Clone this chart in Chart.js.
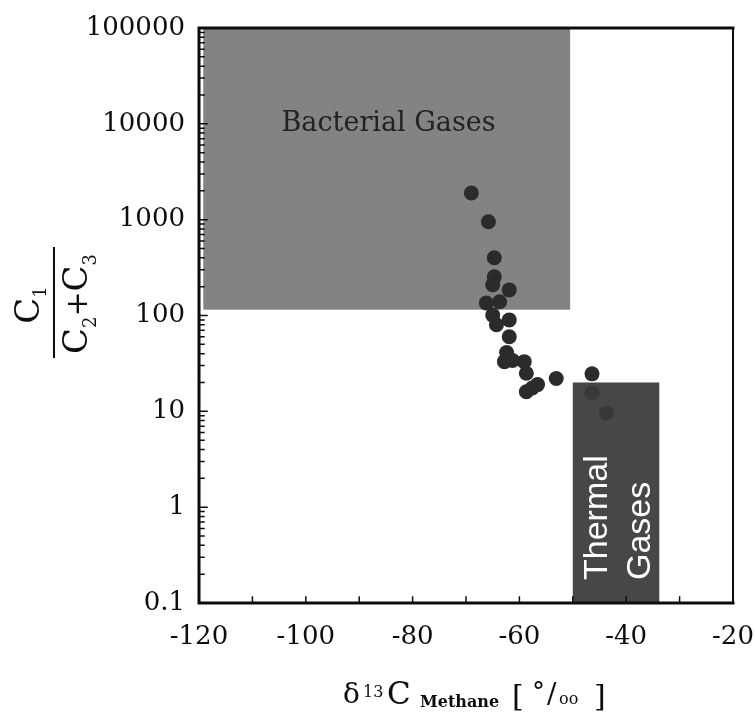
<!DOCTYPE html>
<html>
<head>
<meta charset="utf-8">
<script src="https://cdn.jsdelivr.net/npm/chart.js@4/dist/chart.umd.min.js"></script>
<style>
  html, body { margin: 0; padding: 0; background: #fff; }
  #wrap { width: 755px; height: 722px; }
</style>
</head>
<body>
<div id="wrap"><canvas id="chart" width="755" height="722"></canvas></div>
<script>
// delta 13C of methane (permil) and C1/(C2+C3) for each sample
const deltaC13 = [-69.0, -65.8, -64.7, -64.7, -65.0, -61.9, -66.2, -63.7, -65.0, -61.9,
                  -64.3, -61.9, -62.4, -61.3, -62.8, -59.1, -58.7, -58.7, -57.6, -56.6,
                  -53.1, -46.4, -46.4, -43.7];
const ratio    = [1900, 950, 400, 253, 209, 185, 135, 139, 101, 90,
                  80, 60, 41, 34, 33, 33, 25, 16, 17.5, 19,
                  22, 24.6, 15.6, 9.6];

const xTicks = [-120, -100, -80, -60, -40, -20];
const yTicks = [0.1, 1, 10, 100, 1000, 10000, 100000];
const yTickLabels = ["0.1", "1", "10", "100", "1000", "10000", "100000"];

// source fields
const bacterialX = [-119.2, -50.5];
const bacterialY = [115, 100000];
const thermalX = [-50, -33.8];
const thermalY = [0.1, 20];

const SERIF = '"DejaVu Serif", serif';
const SANS = '"Liberation Sans", Arial, sans-serif';
const COLORS = {
    bacterial: "#838383",
    thermal: "#474747",
    point: "#2b2b2b",
    pointHidden: "#383838",
    ink: "#0d0d0d",
};

const inThermal = (x, y) =>
    x >= thermalX[0] && x <= thermalX[1] && y >= thermalY[0] && y <= thermalY[1];

function fillRegion(ctx, s, xs, ys, color) {
    const x1 = s.x.getPixelForValue(xs[0]);
    const x2 = s.x.getPixelForValue(xs[1]);
    const y1 = s.y.getPixelForValue(ys[1]);
    const y2 = s.y.getPixelForValue(ys[0]);
    ctx.fillStyle = color;
    ctx.fillRect(x1, y1, x2 - x1, y2 - y1);
    return { x1, x2, y1, y2 };
}

// text runs with sub/superscripts
function runWidth(ctx, parts) {
    let w = 0;
    for (const p of parts) { ctx.font = p.font; w += ctx.measureText(p.t).width; }
    return w;
}
function drawRun(ctx, parts, x, y) {
    for (const p of parts) {
        ctx.font = p.font;
        ctx.fillText(p.t, x, y + (p.dy || 0));
        x += ctx.measureText(p.t).width;
    }
}

const decor = {
    id: "decor",
    beforeDatasetsDraw(chart) {
        const { ctx, scales } = chart;
        ctx.save();
        fillRegion(ctx, scales, bacterialX, bacterialY, COLORS.bacterial);
        const t = fillRegion(ctx, scales, thermalX, thermalY, COLORS.thermal);

        ctx.fillStyle = "#222222";
        ctx.font = `27px ${SERIF}`;
        ctx.textAlign = "center";
        ctx.textBaseline = "middle";
        ctx.fillText("Bacterial Gases", scales.x.getPixelForValue(-84.5), scales.y.getPixelForValue(10000));

        // vertical labels in the thermal box
        ctx.fillStyle = "#ffffff";
        ctx.font = `34px ${SANS}`;
        ctx.textAlign = "left";
        ctx.textBaseline = "alphabetic";
        const base = t.y2 - 23;
        [["Thermal", t.x1 + 34], ["Gases", t.x1 + 77]].forEach(([s, x]) => {
            ctx.save();
            ctx.translate(x, base);
            ctx.rotate(-Math.PI / 2);
            ctx.fillText(s, 0, 0);
            ctx.restore();
        });
        ctx.restore();
    },
    afterDatasetsDraw(chart) {
        const { ctx, chartArea: a, scales } = chart;
        ctx.save();
        ctx.strokeStyle = COLORS.ink;
        ctx.lineCap = "square";

        // frame
        ctx.lineWidth = 3;
        ctx.beginPath();
        ctx.moveTo(a.left, a.top); ctx.lineTo(a.right, a.top);
        ctx.moveTo(a.left, a.top); ctx.lineTo(a.left, a.bottom);
        ctx.moveTo(a.left, a.bottom); ctx.lineTo(a.right, a.bottom);
        ctx.stroke();
        ctx.lineWidth = 2;
        ctx.beginPath();
        ctx.moveTo(a.right, a.top); ctx.lineTo(a.right, a.bottom);
        ctx.stroke();

        // inward ticks
        ctx.lineWidth = 1.5;
        ctx.beginPath();
        for (let v = xTicks[0]; v <= xTicks[xTicks.length - 1]; v += 10) {
            const x = scales.x.getPixelForValue(v);
            ctx.moveTo(x, a.bottom); ctx.lineTo(x, a.bottom - 6);
        }
        for (let d = 0; d < yTicks.length; d++) {
            for (let m = 1; m <= 9; m++) {
                const v = yTicks[d] * m;
                if (v > yTicks[yTicks.length - 1]) break;
                const y = scales.y.getPixelForValue(v);
                ctx.moveTo(a.left, y); ctx.lineTo(a.left + (m === 1 ? 8 : 5), y);
            }
        }
        ctx.stroke();

        // y title: C1 / (C2 + C3), rotated
        ctx.fillStyle = COLORS.ink;
        ctx.translate(54, 303);
        ctx.rotate(-Math.PI / 2);
        ctx.lineWidth = 2;
        ctx.beginPath();
        ctx.moveTo(-54, 0); ctx.lineTo(55, 0);
        ctx.stroke();
        ctx.textAlign = "left";
        ctx.textBaseline = "alphabetic";
        const num = [
            { t: "C", font: `34px ${SERIF}` },
            { t: "1", font: `18px ${SERIF}`, dy: 7 },
        ];
        const den = [
            { t: "C", font: `34px ${SERIF}` },
            { t: "2", font: `18px ${SERIF}`, dy: 9 },
            { t: "+", font: `30px ${SERIF}` },
            { t: "C", font: `34px ${SERIF}` },
            { t: "3", font: `18px ${SERIF}`, dy: 9 },
        ];
        drawRun(ctx, num, -2 - runWidth(ctx, num) / 2, -15);
        drawRun(ctx, den, -1 - runWidth(ctx, den) / 2, 33);
        ctx.restore();

        // x title: δ13C Methane [ °/oo ]
        ctx.save();
        ctx.fillStyle = COLORS.ink;
        ctx.textAlign = "left";
        ctx.textBaseline = "alphabetic";
        const xt = [
            ["δ", `28px ${SERIF}`, 343, 703],
            ["13", `16px ${SERIF}`, 363, 697],
            ["C", `31px ${SERIF}`, 387, 704],
            ["Methane", `bold 16px ${SERIF}`, 420, 707],
            ["[", `30px ${SERIF}`, 512, 706],
            ["°", `26px ${SERIF}`, 532, 700],
            ["/", `28px ${SERIF}`, 547, 703],
            ["oo", `16px ${SERIF}`, 559, 704],
            ["]", `30px ${SERIF}`, 594, 706],
        ];
        for (const [s, f, x, y] of xt) { ctx.font = f; ctx.fillText(s, x, y); }
        ctx.restore();
    },
};

new Chart(document.getElementById("chart"), {
    type: "scatter",
    data: {
        datasets: [{
            data: deltaC13.map((x, i) => ({ x, y: ratio[i] })),
            backgroundColor: deltaC13.map((x, i) =>
                inThermal(x, ratio[i]) ? COLORS.pointHidden : COLORS.point),
            borderWidth: 0,
            pointRadius: 7.5,
            pointHoverRadius: 7.5,
        }],
    },
    options: {
        responsive: false,
        animation: false,
        events: [],
        layout: { padding: { top: 28, right: 22, left: 0, bottom: 0 } },
        plugins: { legend: { display: false }, tooltip: { enabled: false } },
        scales: {
            x: {
                type: "linear",
                min: xTicks[0],
                max: xTicks[xTicks.length - 1],
                afterBuildTicks: (s) => { s.ticks = xTicks.map((v) => ({ value: v })); },
                afterFit: (s) => {
                    s.height = 119;
                    s.paddingLeft = 0;
                    s.paddingRight = 0;
                },
                grid: { display: false, drawTicks: false },
                border: { display: false },
                ticks: {
                    color: COLORS.ink,
                    font: { family: SERIF, size: 26 },
                    padding: 19,
                    maxRotation: 0,
                    autoSkip: false,
                    callback: (v) => String(v),
                },
            },
            y: {
                type: "logarithmic",
                min: yTicks[0],
                max: yTicks[yTicks.length - 1],
                afterBuildTicks: (s) => { s.ticks = yTicks.map((v) => ({ value: v })); },
                afterFit: (s) => {
                    s.width = 199;
                    s.paddingTop = 0;
                    s.paddingBottom = 0;
                },
                grid: { display: false, drawTicks: false },
                border: { display: false },
                ticks: {
                    color: COLORS.ink,
                    font: { family: SERIF, size: 26 },
                    padding: 14,
                    autoSkip: false,
                    callback: (v) => {
                        const i = yTicks.findIndex((t) => Math.abs(t - v) < t * 1e-6);
                        return i >= 0 ? yTickLabels[i] : "";
                    },
                },
            },
        },
    },
    plugins: [decor],
});
</script>
</body>
</html>
